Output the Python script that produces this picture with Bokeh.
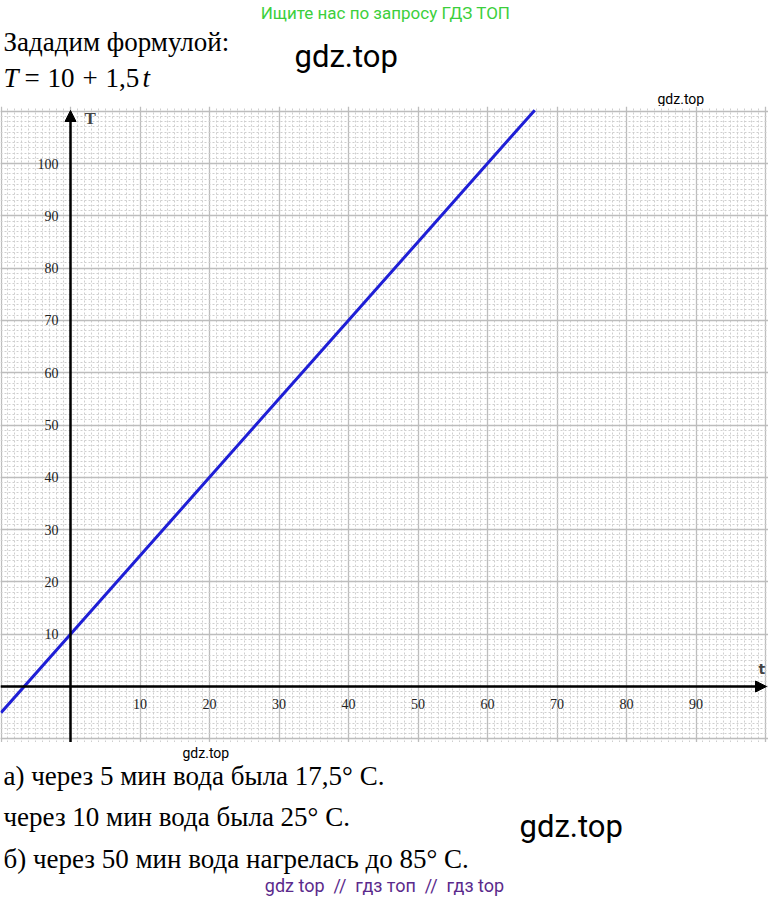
from bokeh.plotting import figure
from bokeh.layouts import column
from bokeh.models import Range1d, FixedTicker, Label, Arrow, NormalHead
from bokeh.embed import file_html
from bokeh.resources import INLINE

# ---- data ----
t_minutes = [-10, 0, 5, 10, 50, 66.8]          # time t, min
temperature = [-5, 10, 17.5, 25, 85, 110.2]     # T = 10 + 1,5t
x_tick_values = [10, 20, 30, 40, 50, 60, 70, 80, 90]
y_tick_values = [10, 20, 30, 40, 50, 60, 70, 80, 90, 100]
grid_major = list(range(-20, 120, 10))
grid_minor = list(range(-12, 115, 1))

header_title = "Зададим формулой:"
formula_parts = ["T", "=", "10", "+", "1,5", "t"]
answers = ["а) через 5 мин вода была 17,5° C.",
           "через 10 мин вода была 25° C.",
           "б) через 50 мин вода нагрелась до 85° C."]

W = 768
SERIF = "Liberation Serif"
SANS = "Roboto"


def blank(height, y_top, y_bottom):
    f = figure(width=W, height=height, x_range=Range1d(0, W),
               y_range=Range1d(y_bottom, y_top), output_backend="svg",
               toolbar_location=None, x_axis_location=None, y_axis_location=None,
               min_border=0)
    f.grid.visible = False
    f.outline_line_color = None
    return f


def lab(f, x, y, text, size, font=SERIF, color="black", align="left", style="normal"):
    f.add_layout(Label(x=x, y=y, text=text, text_font=font, text_font_size=size,
                       text_color=color, text_align=align, text_baseline="middle",
                       text_font_style=style))


# ---- header ----
h = blank(106, 0, 106)
lab(h, 385, 12, "Ищите нас по запросу ГДЗ ТОП", "17px", font=SANS, color="#3ccf3c", align="center")
lab(h, 3, 41, header_title, "27px")
fx = [3, 24, 47, 82, 105, 142]
styles = ["italic", "normal", "normal", "normal", "normal", "italic"]
for xx, part, st in zip(fx, formula_parts, styles):
    lab(h, xx, 77, part, "27px", style=st)
lab(h, 294, 56, "gdz.top", "31px", font=SANS)
lab(h, 657, 98, "gdz.top", "14px", font=SANS)

# ---- main chart ----
x0, y0 = 70.0, 686.0
sx, sy = 6.95, 5.23
xr = Range1d((0 - x0) / sx, (768 - x0) / sx)
yr = Range1d((y0 - 742) / sy, (y0 - 106) / sy)
p = figure(width=W, height=636, x_range=xr, y_range=yr, output_backend="svg",
           toolbar_location=None, min_border=0)
p.outline_line_color = None

for ax, ticks in ((p.xaxis, x_tick_values), (p.yaxis, y_tick_values)):
    ax.fixed_location = 0
    ax.ticker = FixedTicker(ticks=ticks)
    ax.axis_line_color = None
    ax.major_tick_line_color = None
    ax.minor_tick_line_color = None
    ax.major_label_text_font = SERIF
    ax.major_label_text_font_size = "14px"
    ax.major_label_text_color = "#222222"
    ax.major_label_standoff = 6

for g in (p.xgrid, p.ygrid):
    g.ticker = FixedTicker(ticks=grid_major, minor_ticks=grid_minor)
    g.grid_line_color = "#bdbdbd"
    g.grid_line_width = 1.3
    g.minor_grid_line_color = "#cfcfcf"
    g.minor_grid_line_width = 1
    g.minor_grid_line_dash = "2 2"

p.line(t_minutes, temperature, line_color="#1f1fd6", line_width=3)

p.add_layout(Arrow(end=NormalHead(size=11, fill_color="black", line_color="black"),
                   x_start=xr.start, y_start=0, x_end=(766 - x0) / sx, y_end=0,
                   line_color="black", line_width=2.5))
p.add_layout(Arrow(end=NormalHead(size=11, fill_color="black", line_color="black"),
                   x_start=0, y_start=yr.start, x_end=0, y_end=(y0 - 110) / sy,
                   line_color="black", line_width=2.5))
p.add_layout(Label(x=(84 - x0) / sx, y=(y0 - 118) / sy, text="T", text_font=SERIF,
                   text_font_size="17px", text_font_style="bold", text_baseline="middle"))
p.add_layout(Label(x=(758 - x0) / sx, y=(y0 - 668) / sy, text="t", text_font="DejaVu Sans",
                   text_font_size="14px", text_font_style="bold", text_baseline="middle"))

# ---- footer ----
fo = blank(158, 742, 900)
lab(fo, 182, 752, "gdz.top", "14px", font=SANS)
for yy, txt in zip([775, 816, 858], answers):
    lab(fo, 3, yy, txt, "27px")
lab(fo, 519, 826, "gdz.top", "31px", font=SANS)
lab(fo, 384, 885, "gdz top\u00a0 //\u00a0 гдз топ\u00a0 //\u00a0 гдз top", "18px", font=SANS,
    color="#5b2a8c", align="center")

layout = column(h, p, fo, spacing=0)
open("out.html", "w").write(file_html(layout, INLINE))
